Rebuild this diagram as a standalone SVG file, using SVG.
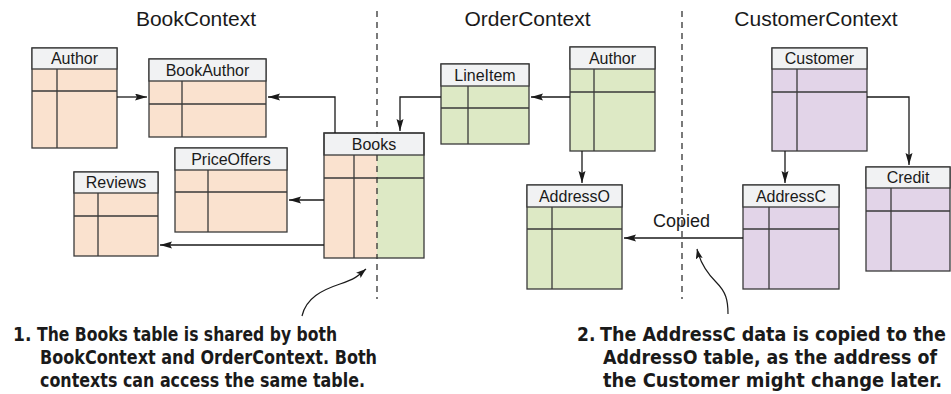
<svg xmlns="http://www.w3.org/2000/svg" width="951" height="394" viewBox="0 0 951 394">
<defs>
<style>
.bx{stroke:#3a3a3a;stroke-width:1.3}
.pe{fill:#fae2cf}
.gr{fill:#dde9c5}
.pu{fill:#e2d4e8}
.hd{fill:#f1f2f3;stroke:#3a3a3a;stroke-width:1.3}
.ln{stroke:#3a3a3a;stroke-width:1.3;fill:none}
.tt{font-family:"Liberation Sans",Arial,sans-serif;font-size:16px;fill:#1a1a1a;text-anchor:middle}
.ctx{font-family:"Liberation Sans",Arial,sans-serif;font-size:21px;fill:#1a1a1a;text-anchor:middle}
.cn{stroke:#1a1a1a;stroke-width:1.3;fill:none;marker-end:url(#ah)}
.an{stroke:#1a1a1a;stroke-width:1.2;fill:none;marker-end:url(#ah2)}
.dv{stroke:#333;stroke-width:1.3;stroke-dasharray:6 5;fill:none}
.nt{font-family:"DejaVu Sans Condensed","DejaVu Sans",sans-serif;font-weight:bold;font-size:19px;fill:#1a1a1a}
</style>
<marker id="ah" markerUnits="userSpaceOnUse" markerWidth="13" markerHeight="8" refX="12" refY="3.5" orient="auto">
<path d="M0,0 L12,3.5 L0,7 L2,3.5 z" fill="#1a1a1a"/>
</marker>
<marker id="ah2" markerUnits="userSpaceOnUse" markerWidth="11" markerHeight="8" refX="10" refY="3.5" orient="auto">
<path d="M0,0 L10,3.5 L0,7 L2,3.5 z" fill="#1a1a1a"/>
</marker>
</defs>
<rect width="951" height="394" fill="#fff"/>

<g id="titles">
<text class="ctx" x="196" y="26">BookContext</text>
<text class="ctx" x="527.5" y="26">OrderContext</text>
<text class="ctx" x="816" y="26">CustomerContext</text>
</g>

<g id="dividers">
<path class="dv" d="M377,11 V299"/>
<path class="dv" d="M682,11 V299"/>
</g>

<g id="book-author">
<rect class="bx pe" x="32" y="48" width="85" height="100"/>
<rect class="hd" x="32" y="48" width="85" height="21"/>
<path class="ln" d="M32,91 H117 M57,69 V148"/>
<text class="tt" x="74.5" y="64">Author</text>
</g>

<g id="bookauthor">
<rect class="bx pe" x="149" y="59" width="117" height="78"/>
<rect class="hd" x="149" y="59" width="117" height="22"/>
<path class="ln" d="M149,104 H266 M182,81 V137"/>
<text class="tt" x="207.5" y="76">BookAuthor</text>
</g>

<g id="priceoffers">
<rect class="bx pe" x="175" y="148" width="112" height="84"/>
<rect class="hd" x="175" y="148" width="112" height="22"/>
<path class="ln" d="M175,192 H287 M208,170 V232"/>
<text class="tt" x="231" y="165">PriceOffers</text>
</g>

<g id="reviews">
<rect class="bx pe" x="74" y="172" width="84" height="84"/>
<rect class="hd" x="74" y="172" width="84" height="21"/>
<path class="ln" d="M74,216 H158 M98,193 V256"/>
<text class="tt" x="116" y="188">Reviews</text>
</g>

<g id="books">
<rect class="pe" x="324" y="155" width="53" height="103"/>
<rect class="gr" x="377" y="155" width="47" height="103"/>
<path class="dv" d="M377,155 V258"/>
<rect class="hd" x="324" y="133" width="100" height="22"/>
<path class="ln" d="M324,178 H424 M354,155 V258"/>
<rect class="ln" x="324" y="133" width="100" height="125"/>
<text class="tt" x="374" y="150">Books</text>
</g>

<g id="lineitem">
<rect class="bx gr" x="441" y="64" width="88" height="80"/>
<rect class="hd" x="441" y="64" width="88" height="22"/>
<path class="ln" d="M441,108 H529 M468,86 V144"/>
<text class="tt" x="485" y="81">LineItem</text>
</g>

<g id="order-author">
<rect class="bx gr" x="570" y="47" width="85" height="104"/>
<rect class="hd" x="570" y="47" width="85" height="22"/>
<path class="ln" d="M570,92 H655 M594,69 V151"/>
<text class="tt" x="612.5" y="64">Author</text>
</g>

<g id="addresso">
<rect class="bx gr" x="527" y="185" width="95" height="104"/>
<rect class="hd" x="527" y="185" width="95" height="22"/>
<path class="ln" d="M527,229 H622 M552,207 V289"/>
<text class="tt" x="574.5" y="202">AddressO</text>
</g>

<g id="customer">
<rect class="bx pu" x="772" y="48" width="95" height="103"/>
<rect class="hd" x="772" y="48" width="95" height="21"/>
<path class="ln" d="M772,92 H867 M797,69 V151"/>
<text class="tt" x="819.5" y="64">Customer</text>
</g>

<g id="addressc">
<rect class="bx pu" x="743" y="185" width="96" height="104"/>
<rect class="hd" x="743" y="185" width="96" height="22"/>
<path class="ln" d="M743,229 H839 M769,207 V289"/>
<text class="tt" x="791" y="202">AddressC</text>
</g>

<g id="credit">
<rect class="bx pu" x="866" y="167" width="84" height="104"/>
<rect class="hd" x="866" y="167" width="84" height="21"/>
<path class="ln" d="M866,211 H950 M891,188 V271"/>
<text class="tt" x="908" y="183">Credit</text>
</g>

<g id="connectors">
<path class="cn" d="M117,97 H147"/>
<path class="cn" d="M335,133 V97 H268"/>
<path class="cn" d="M324,200 H289"/>
<path class="cn" d="M324,245 H160"/>
<path class="cn" d="M441,97 H400 V131"/>
<path class="cn" d="M570,97 H531"/>
<path class="cn" d="M582,151 V183"/>
<path class="cn" d="M743,238 H624"/>
<path class="cn" d="M785,151 V183"/>
<path class="cn" d="M867,97 H909 V165"/>
<text class="tt" x="681.5" y="227" style="font-size:18px">Copied</text>
</g>

<g id="annotations">
<path class="an" d="M302,316 C306,298 322,290 340,284 S360,274 366,269"/>
<path class="an" d="M728,314 C728,300 726,292 716,282 S700,262 697,249"/>
<text class="nt" x="13" y="341">1.</text>
<text class="nt" x="37" y="341" textLength="300" lengthAdjust="spacingAndGlyphs">The Books table is shared by both</text>
<text class="nt" x="40" y="364" textLength="337" lengthAdjust="spacingAndGlyphs">BookContext and OrderContext. Both</text>
<text class="nt" x="40" y="387" textLength="325" lengthAdjust="spacingAndGlyphs">contexts can access the same table.</text>
<text class="nt" x="577" y="341">2.</text>
<text class="nt" x="600" y="341" textLength="346" lengthAdjust="spacingAndGlyphs">The AddressC data is copied to the</text>
<text class="nt" x="603" y="364" textLength="334" lengthAdjust="spacingAndGlyphs">AddressO table, as the address of</text>
<text class="nt" x="603" y="387" textLength="339" lengthAdjust="spacingAndGlyphs">the Customer might change later.</text>
</g>
</svg>
